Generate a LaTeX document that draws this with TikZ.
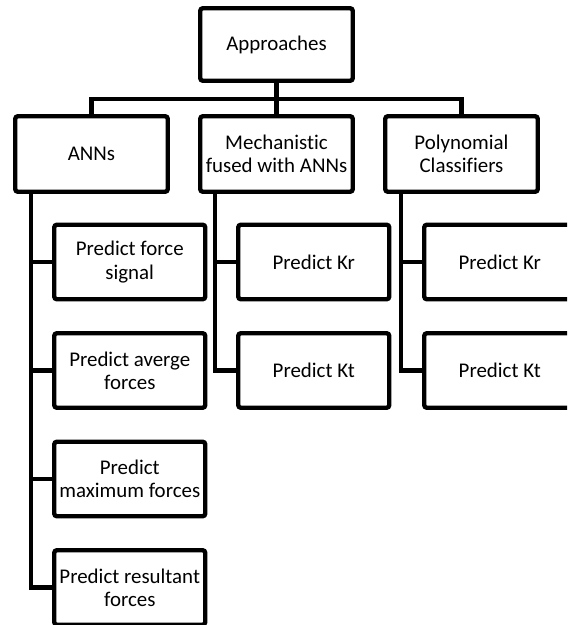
\documentclass[tikz,border=0pt]{standalone}
\usepackage{fontspec}
\setmainfont{Carlito}[Ligatures={NoCommon}]
\usetikzlibrary{positioning}

\begin{document}
\begin{tikzpicture}[node distance=0.68cm and 0.65cm,
    box/.style={draw, line width=2.5pt, rounded corners=1.5pt, minimum width=3.05cm,
                minimum height=1.51cm, inner sep=1pt, outer sep=0pt, align=center,
                font=\fontsize{11.9}{13.2}\selectfont},
    rootbox/.style={box, minimum height=1.45cm},
    leafbox/.style={box, minimum width=3.02cm, minimum height=1.49cm},
    conn/.style={line width=2.5pt}]
  \useasboundingbox (-5.53,0.89) rectangle (5.81,-11.61);
  \clip (-5.53,0.89) rectangle (5.81,-11.61);

  \node[rootbox] (root) {Approaches};
  \node[box, below=0.71cm of root] (mech) {Mechanistic\\fused with ANNs};
  \node[box, left=of mech] (ann) {ANNs};
  \node[box, right=of mech] (poly) {Polynomial\\Classifiers};

  % ANNs branch
  \node[leafbox, below=0.66cm of ann.south west, anchor=north west, xshift=0.78cm] (a1) {Predict force\\signal};
  \node[leafbox, below=of a1] (a2) {Predict averge\\forces};
  \node[leafbox, below=of a2] (a3) {Predict\\maximum forces};
  \node[leafbox, below=of a3] (a4) {Predict resultant\\forces};

  % mechanistic branch
  \node[leafbox, below=0.66cm of mech.south west, anchor=north west, xshift=0.76cm] (m1) {Predict Kr};
  \node[leafbox, below=of m1] (m2) {Predict Kt};

  % polynomial branch
  \node[leafbox, below=0.66cm of poly.south west, anchor=north west, xshift=0.78cm] (p1) {Predict Kr};
  \node[leafbox, below=of p1] (p2) {Predict Kt};

  \coordinate[below=0.36cm of root] (bus);
  \draw[conn] (root) -- (mech);
  \draw[conn] (bus) -| (ann);
  \draw[conn] (bus) -| (poly);

  \foreach \k in {a1,a2,a3,a4}
    \draw[conn] ([xshift=0.31cm]ann.south west) |- (\k);
  \foreach \k in {m1,m2}
    \draw[conn] ([xshift=0.3cm]mech.south west) |- (\k);
  \foreach \k in {p1,p2}
    \draw[conn] ([xshift=0.32cm]poly.south west) |- (\k);
\end{tikzpicture}
\end{document}
